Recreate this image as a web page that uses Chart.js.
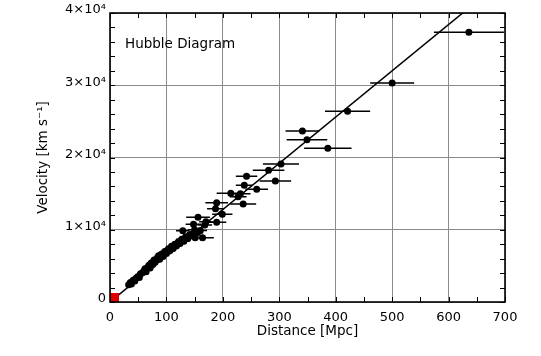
<!DOCTYPE html>
<html>
<head>
<meta charset="utf-8">
<script src="https://cdn.jsdelivr.net/npm/chart.js@4/dist/chart.umd.min.js"></script>
<style>
  html, body { margin: 0; padding: 0; background: #ffffff; }
  #wrap { width: 541px; height: 356px; position: relative; }
</style>
</head>
<body>
<div id="wrap"><canvas id="c" width="541" height="356"></canvas></div>
<script>
// ---- data ----
const distances = [636, 500, 421, 341, 349, 386, 303, 281, 293, 242, 238, 260, 214, 231, 227, 189, 236, 187, 199, 156,
  148, 168, 189, 129, 164, 145, 151, 160, 150, 155, 170,
  33, 36, 38, 41, 44, 46, 49, 52, 54, 57, 60, 62, 64, 67, 69, 71, 73, 76, 78, 80,
  83, 86, 88, 91, 94, 97, 100, 103, 106, 109, 112, 115, 118, 121, 124, 127, 131, 134, 138, 141];
const velocities = [37330, 30310, 26390, 23670, 22470, 21270, 19100, 18230, 16750, 17390, 16150, 15600, 15040, 14990, 14580, 13750, 13560, 12920, 12140, 11720,
  10750, 10660, 11030, 9870, 8900, 9370, 8900, 9900, 10000, 9600, 11100,
  2400, 2700, 2500, 3000, 2900, 3300, 3500, 3400, 3900, 4000, 4300, 4600, 4200, 4800, 5100, 4700, 5400, 5200, 5800, 5500,
  6000, 6400, 5900, 6600, 6300, 7000, 6700, 7300, 7100, 7700, 7400, 8000, 7800, 8300, 8100, 8700, 8400, 9000, 8800, 9300];
const distErrors = [62, 39, 40, 30, 36, 42, 32, 28, 28, 19, 15, 20, 25, 18, 15, 20, 23, 15, 18, 21,
  14, 13, 17, 12, 20, 11, 12, 12, 12, 10, 12,
  3, 3, 4, 4, 4, 4, 4, 4, 5, 5, 5, 5, 5, 5, 6, 6, 6, 6, 6, 6,
  7, 7, 7, 7, 7, 8, 8, 8, 8, 9, 9, 9, 9, 10, 10, 10, 10, 10, 11, 11];
const fitX = [0, 700];
const fitY = [0, 44800];
const originX = [8];
const originY = [620];
const xTickValues = [0, 100, 200, 300, 400, 500, 600, 700];
const yTickValues = [0, 10000, 20000, 30000, 40000];

const FONT = "'DejaVu Sans', sans-serif";

const points = distances.map((d, i) => ({ x: d, y: velocities[i] }));
const errSegments = [];
distances.forEach((d, i) => {
  errSegments.push({ x: d - distErrors[i], y: velocities[i] });
  errSegments.push({ x: d + distErrors[i], y: velocities[i] });
  errSegments.push({ x: d, y: null });
});
const fitLine = fitX.map((x, i) => ({ x: x, y: fitY[i] }));
const origin = originX.map((x, i) => ({ x: x, y: originY[i] }));

const framePlugin = {
  id: 'frame',
  afterDatasetsDraw(chart) {
    const { ctx, chartArea: a, scales: { x, y } } = chart;
    ctx.save();
    ctx.strokeStyle = '#000';
    ctx.lineWidth = 1;
    ctx.beginPath();
    for (let v = 0; v <= 700; v += 50) {
      const px = Math.round(x.getPixelForValue(v)) + 0.5;
      ctx.moveTo(px, a.bottom); ctx.lineTo(px, a.bottom - 5);
      ctx.moveTo(px, a.top); ctx.lineTo(px, a.top + 5);
    }
    for (let v = 0; v <= 40000; v += 2000) {
      const py = Math.round(y.getPixelForValue(v)) + 0.5;
      ctx.moveTo(a.left, py); ctx.lineTo(a.left + 5, py);
      ctx.moveTo(a.right, py); ctx.lineTo(a.right - 5, py);
    }
    ctx.stroke();
    ctx.lineWidth = 1.6;
    ctx.strokeRect(a.left, a.top, a.right - a.left, a.bottom - a.top);
    ctx.fillStyle = '#000';
    ctx.font = "13.5px " + FONT;
    ctx.textAlign = 'left';
    ctx.textBaseline = 'middle';
    ctx.fillText('Hubble Diagram', a.left + 15, a.top + 31);
    ctx.restore();
  }
};

new Chart(document.getElementById('c'), {
  type: 'scatter',
  data: {
    datasets: [
      {
        type: 'line', data: errSegments, borderColor: '#000', borderWidth: 1.5,
        pointRadius: 0, spanGaps: false, fill: false, order: 3
      },
      {
        type: 'line', data: fitLine, borderColor: '#000', borderWidth: 1.5,
        pointRadius: 0, fill: false, order: 1
      },
      {
        data: points, backgroundColor: '#000', borderColor: '#000',
        pointRadius: 3.5, pointBorderWidth: 0, order: 2
      },
      {
        data: origin, backgroundColor: '#e00000', borderColor: '#e00000',
        pointStyle: 'rect', pointRadius: 6.4, pointBorderWidth: 0, clip: false, order: 0
      }
    ]
  },
  options: {
    responsive: false,
    animation: false,
    events: [],
    layout: { padding: { left: 0, right: 36, top: 13, bottom: 0 } },
    plugins: { legend: { display: false }, tooltip: { enabled: false } },
    scales: {
      x: {
        type: 'linear', min: 0, max: 700,
        afterBuildTicks: s => { s.ticks = xTickValues.map(v => ({ value: v })); },
        afterFit: s => { s.height = 54; },
        grid: { color: '#8a8a8a', lineWidth: 1, drawTicks: false },
        border: { display: false },
        ticks: { color: '#000', font: { family: FONT, size: 13 }, padding: 8, maxRotation: 0 },
        title: { display: true, text: 'Distance [Mpc]', color: '#000', font: { family: FONT, size: 13.5 }, padding: { top: 0, bottom: 16 } }
      },
      y: {
        type: 'linear', min: 0, max: 40000,
        afterBuildTicks: s => { s.ticks = yTickValues.map(v => ({ value: v })); },
        afterFit: s => { s.width = 110; },
        grid: { color: '#8a8a8a', lineWidth: 1, drawTicks: false },
        border: { display: false },
        ticks: {
          color: '#000', font: { family: FONT, size: 13 }, padding: 4, labelOffset: -3,
          callback: v => v === 0 ? '0' : (v / 10000) + '×10⁴'
        },
        title: { display: true, text: 'Velocity [km s⁻¹]', color: '#000', font: { family: FONT, size: 13.5 }, padding: { top: 35, bottom: 0 } }
      }
    }
  },
  plugins: [framePlugin]
});
</script>
</body>
</html>
